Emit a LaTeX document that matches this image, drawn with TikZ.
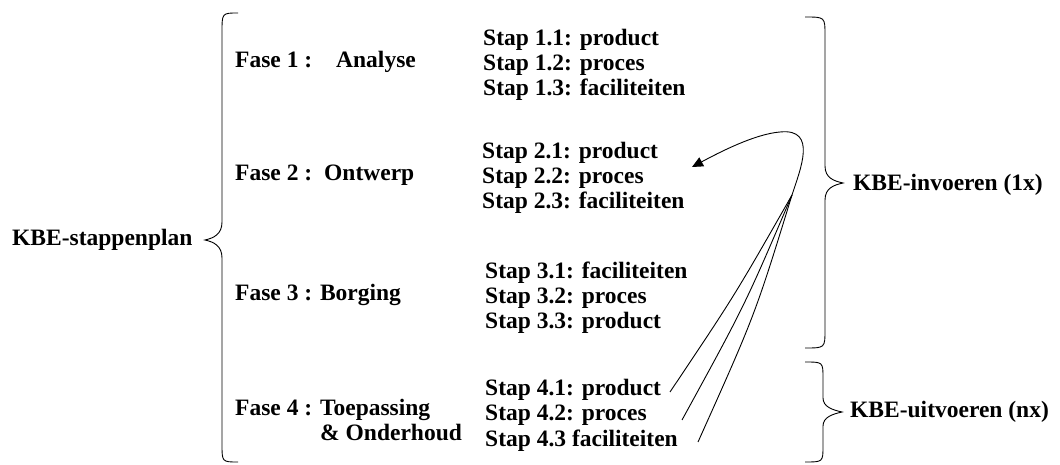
\documentclass[tikz,border=0pt]{standalone}
\usepackage{fontspec}
\setmainfont{Liberation Serif}[BoldFont={Liberation Serif Bold}]
\usetikzlibrary{arrows.meta}
\begin{document}
\begin{tikzpicture}[x=1pt,y=-1pt,
  lbl/.style={font=\fontsize{23.5}{25}\selectfont\bfseries, inner sep=0pt, anchor=west, align=left},
  brace/.style={line width=0.9pt},
  conn/.style={line width=0.9pt},
]
\useasboundingbox (0,0) rectangle (1060,465);
% left main label
\node[lbl] (plan) at (12,240) {KBE-stappenplan};
% left brace
\draw[brace] (238,13) .. controls (222,13) .. (222,32) -- (222,222) .. controls (222,234) and (214,238) .. (205,240)
  .. controls (214,242) and (222,246) .. (222,258) -- (222,444) .. controls (222,462) .. (238,462);
% phases
\node[lbl] (f1) at (235,62) {Fase 1 :\hspace*{24pt}Analyse};
\node[lbl] (f2) at (235,175) {Fase 2 :\hspace*{12pt}Ontwerp};
\node[lbl] (f3) at (235,295) {Fase 3 : Borging};
\node[lbl] (f4) at (235,420) {Fase 4 : Toepassing\\\hspace*{85pt}\& Onderhoud};
% steps
\node[lbl] (s1) at (483,65) {Stap 1.1: product\\Stap 1.2: proces\\Stap 1.3: faciliteiten};
\node[lbl] (s2) at (482,178) {Stap 2.1: product\\Stap 2.2: proces\\Stap 2.3: faciliteiten};
\node[lbl] (s3) at (485,298) {Stap 3.1: faciliteiten\\Stap 3.2: proces\\Stap 3.3: product};
\node[lbl] (s41) at (485,390) {Stap 4.1: product};
\node[lbl] (s42) at (485,415) {Stap 4.2: proces};
\node[lbl] (s43) at (485,441) {Stap 4.3 faciliteiten};
% right braces
\draw[brace] (805,17) .. controls (825,17) .. (825,35) -- (825,166) .. controls (825,178) and (834,181) .. (843,183)
  .. controls (834,185) and (825,188) .. (825,200) -- (825,330) .. controls (825,348) .. (805,348);
\draw[brace] (805,362) .. controls (823,362) .. (823,378) -- (823,398) .. controls (823,407) and (833,410) .. (842,412)
  .. controls (833,414) and (823,417) .. (823,426) -- (823,446) .. controls (823,462) .. (805,462);
\node[lbl] (inv) at (853,185) {KBE-invoeren (1x)};
\node[lbl] (uit) at (850,412) {KBE-uitvoeren (nx)};
% connectors
\coordinate (meet) at (792,195);
\coordinate (tip) at (692,167);
\coordinate (e41) at (670,392);
\coordinate (e42) at (682,420);
\coordinate (e43) at (698,442);
\draw[conn] (e41) .. controls (735,295) .. (meet);
\draw[conn] (e42) .. controls (745,305) .. (meet);
\draw[conn] (e43) .. controls (755,315) .. (meet);
\draw[conn, -{Triangle[length=11pt,width=10pt]}] (meet) .. controls (800,170) and (818,128) .. (780,132)
  .. controls (755,134) and (720,152) .. (tip);
\end{tikzpicture}
\end{document}
